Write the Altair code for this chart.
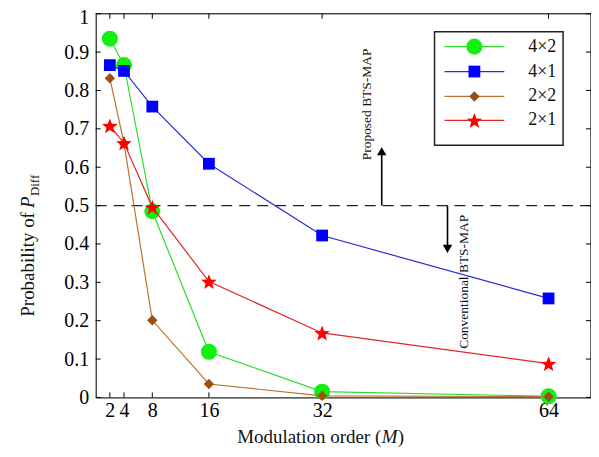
import math
import altair as alt
import pandas as pd

# ---------------- data ----------------
M_values = [2, 4, 8, 16, 32, 64]
series_names = ["4×2", "4×1", "2×2", "2×1"]
p_4x2 = [0.935, 0.866, 0.485, 0.119, 0.015, 0.003]
p_4x1 = [0.866, 0.851, 0.758, 0.609, 0.422, 0.258]
p_2x2 = [0.832, 0.662, 0.201, 0.035, 0.004, 0.002]
p_2x1 = [0.708, 0.663, 0.496, 0.302, 0.168, 0.088]
x_ticks = [2, 4, 8, 16, 32, 64]
y_ticks = [0, 0.1, 0.2, 0.3, 0.4, 0.5, 0.6, 0.7, 0.8, 0.9, 1]
threshold = 0.5

LEFT, TOP = 96, 13          # page position of the plot area
W, H = 497, 385
FONT = "Liberation Serif"


def px(xp):
    return xp - LEFT


def py(yp):
    return yp - TOP


# five-point star path in [-1,1]
pts = []
for k in range(10):
    r = 1.0 if k % 2 == 0 else 0.42
    a = -math.pi / 2 + k * math.pi / 5
    pts.append(f"{r*math.cos(a):.3f},{r*math.sin(a)+0.1:.3f}")
STAR = "M" + "L".join(pts) + "Z"

styles = [
    ("4×2", p_4x2, "#2edb2e", "#12f012", "circle", 260),
    ("4×1", p_4x1, "#2a2ad6", "#0000ff", "square", 140),
    ("2×2", p_2x2, "#b8742e", "#9c4f12", "diamond", 110),
    ("2×1", p_2x1, "#e02828", "#ff0000", STAR, 270),
]

xs = alt.Scale(domain=[0, 70], nice=False, zero=False)
ys = alt.Scale(domain=[0, 1], nice=False)
AX = alt.Axis(values=x_ticks, ticks=False, grid=False, title=None,
              labelFont=FONT, labelFontSize=20, labelColor="black",
              labelPadding=3, labelOverlap=False, labelFlush=False,
              domainColor="black")
AY = alt.Axis(values=y_ticks, ticks=False, grid=False, title=None,
              format="~g", labelFont=FONT, labelFontSize=20,
              labelColor="black", labelPadding=7, labelOverlap=False,
              labelFlush=False, domainColor="black",
              labelOffset={"condition": {"test": "datum.value >= 1", "value": 4}, "value": 0})


def X(field):
    return alt.X(field, scale=xs, axis=AX)


def Y(field):
    return alt.Y(field, scale=ys, axis=AY)


layers = []

axis_df = pd.DataFrame({"M": [0], "p": [0]})
layers.append(alt.Chart(axis_df).mark_point(opacity=0).encode(x=X("M:Q"), y=Y("p:Q")))

thr_df = pd.DataFrame({"p": [threshold]})
layers.append(
    alt.Chart(thr_df).mark_rule(color="#222222", strokeWidth=1.3, strokeDash=[11, 7]).encode(
        y=Y("p:Q"), x=alt.value(0), x2=alt.value(W)
    )
)

# inner ticks on all four sides
xt = pd.DataFrame({"M": x_ticks})
yt = pd.DataFrame({"p": y_ticks})
for yv, y2v in [(H, H - 5), (0, 5)]:
    layers.append(alt.Chart(xt).mark_rule(color="black", strokeWidth=1).encode(
        x=X("M:Q"), y=alt.value(yv), y2=alt.value(y2v)))
for xv, x2v in [(0, 5), (W, W - 5)]:
    layers.append(alt.Chart(yt).mark_rule(color="black", strokeWidth=1).encode(
        y=Y("p:Q"), x=alt.value(xv), x2=alt.value(x2v)))

# box edges (top and right)
layers.append(alt.Chart(axis_df).mark_rule(color="black", strokeWidth=1.2).encode(
    x=alt.value(0), x2=alt.value(W), y=alt.value(0)))
layers.append(alt.Chart(axis_df).mark_rule(color="black", strokeWidth=1.2).encode(
    x=alt.value(W), y=alt.value(0), y2=alt.value(H)))

# series
for name, vals, lc, mc, shape, size in styles:
    df = pd.DataFrame({"M": M_values, "p": vals, "s": name})
    layers.append(alt.Chart(df).mark_line(color=lc, strokeWidth=1.2).encode(
        x=X("M:Q"), y=Y("p:Q")))
    layers.append(alt.Chart(df).mark_point(filled=True, color=mc, shape=shape, size=size, opacity=1).encode(
        x=X("M:Q"), y=Y("p:Q")))

dummy = pd.DataFrame({"a": [0]})
y_half = H * (1 - threshold)
# up arrow (Proposed)
layers.append(alt.Chart(dummy).mark_rule(color="black", strokeWidth=1.6).encode(
    x=alt.value(px(383)), y=alt.value(y_half), y2=alt.value(py(152))))
layers.append(alt.Chart(dummy).mark_point(shape="triangle-up", filled=True, color="black", size=90, opacity=1).encode(
    x=alt.value(px(383)), y=alt.value(py(151))))
layers.append(alt.Chart(dummy).mark_text(text="Proposed BTS-MAP", angle=270, font=FONT, fontSize=13.5,
                                         align="center", baseline="middle", color="#111").encode(
    x=alt.value(px(368)), y=alt.value(py(104))))
# down arrow (Conventional)
layers.append(alt.Chart(dummy).mark_rule(color="black", strokeWidth=1.6).encode(
    x=alt.value(px(449)), y=alt.value(y_half), y2=alt.value(py(248))))
layers.append(alt.Chart(dummy).mark_point(shape="triangle-down", filled=True, color="black", size=90, opacity=1).encode(
    x=alt.value(px(449)), y=alt.value(py(249))))
layers.append(alt.Chart(dummy).mark_text(text="Conventional BTS-MAP", angle=270, font=FONT, fontSize=13.5,
                                         align="center", baseline="middle", color="#111").encode(
    x=alt.value(px(466)), y=alt.value(py(282))))

# legend
layers.append(alt.Chart(dummy).mark_rect(fill="white", stroke="#222", strokeWidth=1.5).encode(
    x=alt.value(px(436)), x2=alt.value(px(565)), y=alt.value(py(31)), y2=alt.value(py(145))))
row_y = [46, 71, 96, 120]
for (name, vals, lc, mc, shape, size), ry in zip(styles, row_y):
    layers.append(alt.Chart(dummy).mark_rule(color=lc, strokeWidth=1.2).encode(
        x=alt.value(px(446)), x2=alt.value(px(506)), y=alt.value(py(ry))))
    layers.append(alt.Chart(dummy).mark_point(filled=True, color=mc, shape=shape, size=size, opacity=1).encode(
        x=alt.value(px(476)), y=alt.value(py(ry))))
    layers.append(alt.Chart(dummy).mark_text(text=name, font=FONT, fontSize=18, align="left",
                                             baseline="middle", color="#111").encode(
        x=alt.value(px(530)), y=alt.value(py(ry))))

# y title: "Probability of P_Diff"
layers.append(alt.Chart(dummy).mark_text(text="Probability of ", angle=270, font=FONT, fontSize=19,
                                         align="left", baseline="alphabetic", color="#111").encode(
    x=alt.value(px(34)), y=alt.value(py(317))))
layers.append(alt.Chart(dummy).mark_text(text="P", angle=270, font=FONT, fontSize=19, fontStyle="italic",
                                         align="left", baseline="alphabetic", color="#111").encode(
    x=alt.value(px(34)), y=alt.value(py(208))))
layers.append(alt.Chart(dummy).mark_text(text="Diff", angle=270, font=FONT, fontSize=13,
                                         align="left", baseline="alphabetic", color="#111").encode(
    x=alt.value(px(39)), y=alt.value(py(196))))

# x title: "Modulation order (M)"
layers.append(alt.Chart(dummy).mark_text(text="Modulation order (", font=FONT, fontSize=19,
                                         align="left", baseline="alphabetic", color="#111").encode(
    x=alt.value(px(238)), y=alt.value(py(444))))
layers.append(alt.Chart(dummy).mark_text(text="M", font=FONT, fontSize=19, fontStyle="italic",
                                         align="left", baseline="alphabetic", color="#111").encode(
    x=alt.value(px(383)), y=alt.value(py(444))))
layers.append(alt.Chart(dummy).mark_text(text=")", font=FONT, fontSize=19,
                                         align="left", baseline="alphabetic", color="#111").encode(
    x=alt.value(px(399)), y=alt.value(py(444))))

chart = alt.layer(*layers).properties(
    width=W, height=H,
    autosize=alt.AutoSizeParams(type="none"),
    padding={"left": LEFT - 8, "top": TOP - 8, "right": 0, "bottom": 449 - (TOP + H)},
).configure_view(stroke="black", strokeWidth=1.2).configure(background="white")

chart.save("out.html", embed_options={"renderer": "svg", "actions": False})
